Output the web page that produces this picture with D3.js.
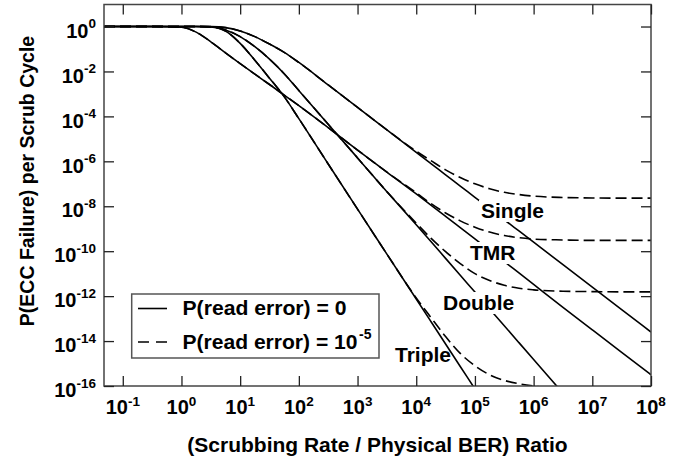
<!DOCTYPE html>
<html><head><meta charset="utf-8">
<script src="https://cdnjs.cloudflare.com/ajax/libs/d3/7.8.5/d3.min.js"></script>
<style>
body{margin:0;background:#fff}
svg{display:block}
text{font-family:"Liberation Sans",Arial,Helvetica,sans-serif;font-weight:bold;fill:#000}
</style>
</head><body>
<svg id="chart" width="695" height="460"></svg>
<script>
// log10 of (Scrubbing Rate / Physical BER) ratio
const logRatio =      [-1.32, -1, -0.5, 0, 0.25, 0.5, 0.75, 1, 1.25, 1.5, 1.75, 2, 2.5, 3, 3.5, 4, 4.25, 4.5, 4.75, 5, 5.25, 5.5, 5.75, 6, 6.5, 7, 7.5, 8];
// log10 P(ECC failure) per scrub cycle, P(read error) = 0 (solid)
const singleSolid =   [0, 0, 0, 0, 0, -0.005, -0.05, -0.2, -0.45, -0.78, -1.15, -1.6, -2.6, -3.6, -4.6, -5.6, -6.1, -6.6, -7.1, -7.6, -8.1, -8.6, -9.1, -9.6, -10.6, -11.6, -12.6, -13.6];
const tmrSolid =      [0, 0, -0.002, -0.03, -0.25, -0.68, -1.17, -1.65, -2.12, -2.58, -3.05, -3.52, -4.5, -5.5, -6.48, -7.45, -7.95, -8.45, -8.95, -9.45, -9.96, -10.46, -10.97, -11.48, -12.5, -13.5, -14.5, -15.5];
const doubleSolid =   [0, 0, 0, 0, 0, -0.01, -0.15, -0.45, -0.9, -1.45, -2.1, -2.85, -4.35, -5.85, -7.35, -8.82, -9.57, -10.32, -11.07, -11.82, -12.57, -13.32, -14.07, -14.82, -16.32, -17.8, -19.3, -20.8];
const tripleSolid =   [0, 0, 0, 0, 0, -0.015, -0.2, -0.75, -1.5, -2.3, -3.12, -4.1, -6.12, -8.13, -10.13, -12.13, -13.13, -14.13, -15.13, -16.13, -17.13, -18.13, -19.13, -20.13, -22.1, -24.1, -26.1, -28.1];
// P(read error) = 1e-5 (dashed)
const singleDashed =  [0, 0, 0, 0, 0, -0.005, -0.05, -0.2, -0.45, -0.78, -1.15, -1.6, -2.6, -3.6, -4.6, -5.55, -5.97, -6.38, -6.72, -7.0, -7.22, -7.38, -7.48, -7.55, -7.61, -7.63, -7.64, -7.64];
const tmrDashed =     [0, 0, -0.002, -0.03, -0.25, -0.68, -1.17, -1.65, -2.12, -2.58, -3.05, -3.52, -4.5, -5.5, -6.48, -7.4, -7.88, -8.3, -8.65, -8.93, -9.15, -9.3, -9.4, -9.46, -9.5, -9.52, -9.52, -9.52];
const doubleDashed =  [0, 0, 0, 0, 0, -0.01, -0.15, -0.45, -0.9, -1.45, -2.1, -2.85, -4.35, -5.85, -7.35, -8.75, -9.42, -10.02, -10.55, -11.0, -11.3, -11.52, -11.65, -11.72, -11.78, -11.8, -11.81, -11.81];
const tripleDashed =  [0, 0, 0, 0, 0, -0.015, -0.2, -0.75, -1.5, -2.3, -3.12, -4.1, -6.12, -8.13, -10.13, -12.08, -12.95, -13.8, -14.55, -15.1, -15.5, -15.75, -15.9, -16.0, -16.1, -16.15, -16.15, -16.15];

const seriesNames = ["Single", "TMR", "Double", "Triple"];
const xTickExps = [-1, 0, 1, 2, 3, 4, 5, 6, 7, 8];
const yTickExps = [0, -2, -4, -6, -8, -10, -12, -14, -16];
const xTitle = "(Scrubbing Rate / Physical BER) Ratio";
const yTitle = "P(ECC Failure) per Scrub Cycle";
const legendMain = ["P(read error) = 0", "P(read error) = 10"];
const legendExp = ["", "-5"];

const svg = d3.select("#chart");
const L = 104, R = 651, T = 4.5, B = 386;
const x = d3.scaleLog().domain([Math.pow(10, -1.32), 1e8]).range([L, R]);
const y = d3.scaleLog().domain([1e-16, Math.pow(10, 0.98)]).range([B, T]);

svg.append("defs").append("clipPath").attr("id", "clip")
  .append("rect").attr("x", L).attr("y", T).attr("width", R - L).attr("height", B - T);

const line = d3.line()
  .x(d => x(Math.pow(10, d[0])))
  .y(d => y(Math.pow(10, d[1])))
  .curve(d3.curveMonotoneX);

const g = svg.append("g").attr("clip-path", "url(#clip)");
const solids = [singleSolid, tmrSolid, doubleSolid, tripleSolid];
const dashes = [singleDashed, tmrDashed, doubleDashed, tripleDashed];
solids.forEach(s => {
  g.append("path").datum(logRatio.map((r, i) => [r, s[i]]))
    .attr("d", line).attr("fill", "none").attr("stroke", "#000").attr("stroke-width", 1.6);
});
dashes.forEach(s => {
  g.append("path").datum(logRatio.map((r, i) => [r, s[i]]))
    .attr("d", line).attr("fill", "none").attr("stroke", "#000").attr("stroke-width", 1.6)
    .attr("stroke-dasharray", "11,5");
});

// curve labels with white backing
const labelPos = [[481, 218], [470, 260], [443, 310], [395, 361.5]];
seriesNames.forEach((n, i) => {
  const lg = svg.append("g");
  const t = lg.append("text").attr("x", labelPos[i][0]).attr("y", labelPos[i][1])
    .attr("font-size", 21).text(n);
  const bb = t.node().getBBox();
  if (i < 3) {
    lg.insert("rect", "text").attr("x", bb.x - 2).attr("y", bb.y + 1).attr("width", bb.width + 4)
      .attr("height", bb.height - 1).attr("fill", "#fff");
  }
});

// frame
svg.append("rect").attr("x", L).attr("y", T).attr("width", R - L).attr("height", B - T)
  .attr("fill", "none").attr("stroke", "#444").attr("stroke-width", 1.5);

// ticks (inward) via d3 axes
const xv = xTickExps.map(e => Math.pow(10, e));
const yv = yTickExps.map(e => Math.pow(10, e));
function styleAxis(sel) {
  sel.select(".domain").remove();
  sel.selectAll(".tick line").attr("stroke", "#222").attr("stroke-width", 1.3);
  sel.selectAll(".tick text").remove();
}
svg.append("g").attr("transform", `translate(0,${B})`)
  .call(d3.axisBottom(x).tickValues(xv).tickSize(-10).tickFormat("")).call(styleAxis);
svg.append("g").attr("transform", `translate(0,${T})`)
  .call(d3.axisTop(x).tickValues(xv).tickSize(-10).tickFormat("")).call(styleAxis);
svg.append("g").attr("transform", `translate(${L},0)`)
  .call(d3.axisLeft(y).tickValues(yv).tickSize(-10).tickFormat("")).call(styleAxis);
svg.append("g").attr("transform", `translate(${R},0)`)
  .call(d3.axisRight(y).tickValues(yv).tickSize(-10).tickFormat("")).call(styleAxis);

// tick labels with superscripts
xTickExps.forEach(e => {
  const t = svg.append("text").attr("x", x(Math.pow(10, e))).attr("y", 413.5)
    .attr("text-anchor", "middle").attr("font-size", 20);
  t.append("tspan").text("10");
  t.append("tspan").attr("font-size", 13.5).attr("dy", -8).text(String(e));
});
yTickExps.forEach(e => {
  const t = svg.append("text").attr("x", 96).attr("y", y(Math.pow(10, e)) + 11.2)
    .attr("text-anchor", "end").attr("font-size", 20);
  t.append("tspan").text("10");
  t.append("tspan").attr("font-size", 13.5).attr("dy", -9.5).text(String(e));
});

// axis titles
svg.append("text").attr("x", 377.5).attr("y", 452).attr("text-anchor", "middle")
  .attr("font-size", 21).text(xTitle);
svg.append("text").attr("transform", "translate(34,181) rotate(-90)")
  .attr("text-anchor", "middle").attr("font-size", 19.5).text(yTitle);

// legend
const leg = svg.append("g");
leg.append("rect").attr("x", 131.7).attr("y", 294).attr("width", 247.3).attr("height", 64)
  .attr("fill", "#fff").attr("stroke", "#555").attr("stroke-width", 1.5);
const rowsY = [308.5, 342];
const rowLen = [164, 175];
rowsY.forEach((ry, i) => {
  leg.append("line").attr("x1", 138).attr("x2", 167).attr("y1", ry).attr("y2", ry)
    .attr("stroke", "#000").attr("stroke-width", 1.6)
    .attr("stroke-dasharray", i === 1 ? "11,7" : null);
  leg.append("text").attr("x", 182.5).attr("y", ry + 6.8).attr("font-size", 19.5)
    .attr("textLength", rowLen[i]).attr("lengthAdjust", "spacingAndGlyphs").text(legendMain[i]);
  if (legendExp[i]) {
    leg.append("text").attr("x", 182.5 + rowLen[i] + 1.5).attr("y", ry + 6.8 - 10)
      .attr("font-size", 14).text(legendExp[i]);
  }
});
</script>
</body></html>
